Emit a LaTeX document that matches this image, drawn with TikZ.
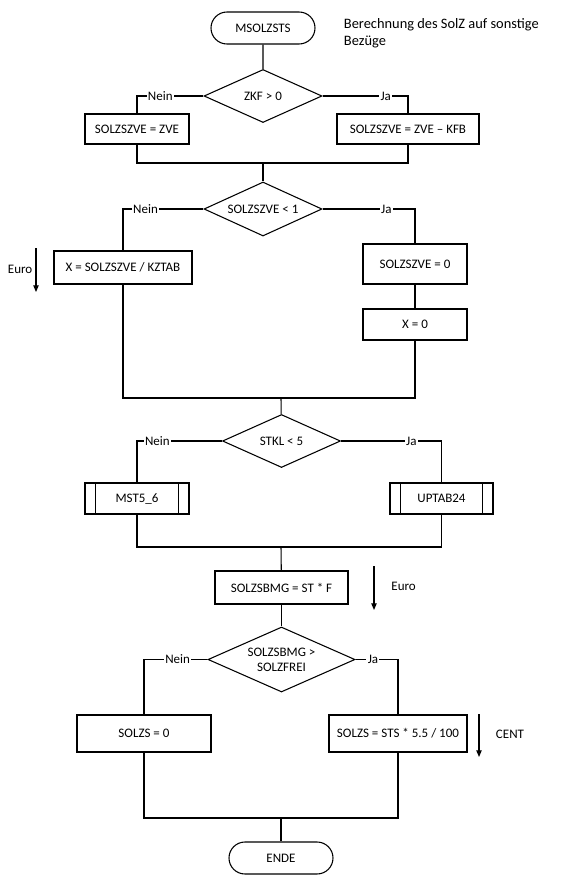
\documentclass[tikz,border=0pt]{standalone}
\usepackage{fontspec}
\setmainfont{Carlito}
\usetikzlibrary{shapes.geometric,shapes.misc,arrows.meta}

\begin{document}
\begin{tikzpicture}[x=0.75pt,y=-0.75pt,
    line width=0.8pt,
    every node/.style={font=\fontsize{9.75}{11.5}\selectfont},
    box/.style={draw, rectangle, inner sep=0pt},
    term/.style={draw, rounded rectangle, inner sep=0pt, minimum width=78pt, minimum height=24pt},
    cond/.style={draw, diamond, aspect=2.2, inner sep=0pt, align=center},
    lbl/.style={fill=white, inner sep=1pt},
    unit/.style={-{Triangle[length=5pt,width=4pt]}}]
    \useasboundingbox (0,0) rectangle (571,882);

    % Start
    \node[term] (start) at (263,28) {MSOLZSTS};
    \node[anchor=west, align=left, font=\fontsize{10.8}{12.75}\selectfont] (note) at (339,33.5)
        {Berechnung des SolZ auf sonstige\\Bezüge};

    % ZKF > 0
    \node[cond, minimum width=88.5pt, minimum height=39.75pt] (zkf) at (263,96) {ZKF > 0};
    \node[box, minimum width=78pt, minimum height=22.5pt] (zvea) at (137,129) {SOLZSZVE = ZVE};
    \node[box, minimum width=106.5pt, minimum height=22.5pt] (zveb) at (408,129) {SOLZSZVE = ZVE – KFB};
    \coordinate (m1) at (263,163);
    \draw (start) -- (zkf);
    \draw (zkf.west) -- node[lbl,pos=0.65] {Nein} (zkf.west -| zvea.north) -- (zvea.north);
    \draw (zkf.east) -- node[lbl,pos=0.74] {Ja} (zkf.east -| zveb.north) -- (zveb.north);
    \draw (zvea.south) |- (m1) -| (zveb.south);

    % SOLZSZVE < 1
    \node[cond, minimum width=88.5pt, minimum height=40.5pt] (zvek) at (263,209) {SOLZSZVE < 1};
    \node[box, minimum width=103.5pt, minimum height=24.75pt] (xtab) at (123,267.5) {X = SOLZSZVE / KZTAB};
    \node[box, minimum width=78pt, minimum height=30pt] (zvenull) at (415,264) {SOLZSZVE = 0};
    \node[box, minimum width=78pt, minimum height=23.25pt] (xnull) at (415,324.5) {X = 0};
    \coordinate (m2) at (281,398);
    \draw (m1) -- (zvek);
    \draw (zvek.west) -- node[lbl,pos=0.72] {Nein} (zvek.west -| xtab.north) -- (xtab.north);
    \draw (zvek.east) -- node[lbl,pos=0.69] {Ja} (zvek.east -| zvenull.north) -- (zvenull.north);
    \draw (zvenull) -- (xnull);
    \draw (xtab.south) |- (m2) -| (xnull.south);

    % Euro
    \coordinate (eu1a) at (36,248);
    \coordinate (eu1b) at (36,292);
    \draw[unit] (eu1a) -- (eu1b);
    \node[anchor=west] (eu1) at (3,269) {Euro};

    % STKL < 5
    \node[cond, minimum width=88.5pt, minimum height=39.75pt] (stkl) at (281.5,441) {STKL < 5};
    \node[box, minimum width=78pt, minimum height=23.25pt] (mst) at (137,498.5) {MST5\_6};
    \node[box, minimum width=77.25pt, minimum height=23.25pt] (uptab) at (441.5,498.5) {UPTAB24};
    \foreach \n in {mst,uptab} {
        \draw ([xshift=8.25pt]\n.north west) -- ([xshift=8.25pt]\n.south west);
        \draw ([xshift=-8.25pt]\n.north east) -- ([xshift=-8.25pt]\n.south east);
    }
    \coordinate (m3) at (281,547);
    \draw (m2) -- (stkl);
    \draw (stkl.west) -- node[lbl,pos=0.76] {Nein} (stkl.west -| mst.north) -- (mst.north);
    \draw (stkl.east) -- node[lbl,pos=0.70] {Ja} (stkl.east -| uptab.north) -- (uptab.north);
    \draw (mst.south) |- (m3) -| (uptab.south);

    % SOLZSBMG
    \node[box, minimum width=99.75pt, minimum height=24.75pt] (bmg) at (281.5,587.5) {SOLZSBMG = ST * F};
    \coordinate (eu2a) at (374,566);
    \coordinate (eu2b) at (374,610);
    \draw[unit] (eu2a) -- (eu2b);
    \node[anchor=west] (eu2) at (386.5,586) {Euro};
    \draw (m3) -- (bmg);

    % SOLZSBMG > SOLZFREI
    \node[cond, minimum width=110.25pt, minimum height=48.75pt] (frei) at (281.5,659.5) {SOLZSBMG >\\SOLZFREI};
    \node[box, minimum width=100.5pt, minimum height=27.75pt] (solzn) at (144,733.5) {SOLZS = 0};
    \node[box, minimum width=103.5pt, minimum height=27.75pt] (solzj) at (398,733.5) {SOLZS = STS * 5.5 / 100};
    \coordinate (m4) at (281,818);
    \draw (bmg) -- (frei);
    \draw (frei.west) -- node[lbl,pos=0.47] {Nein} (frei.west -| solzn.north) -- (solzn.north);
    \draw (frei.east) -- node[lbl,pos=0.41] {Ja} (frei.east -| solzj.north) -- (solzj.north);
    \draw (solzn.south) |- (m4) -| (solzj.south);

    % Cent
    \coordinate (cta) at (479,714);
    \coordinate (ctb) at (479,757);
    \draw[unit] (cta) -- (ctb);
    \node[anchor=west] (ct) at (491,734) {CENT};

    % End
    \node[term] (ende) at (281,858) {ENDE};
    \draw (m4) -- (ende);
\end{tikzpicture}
\end{document}
